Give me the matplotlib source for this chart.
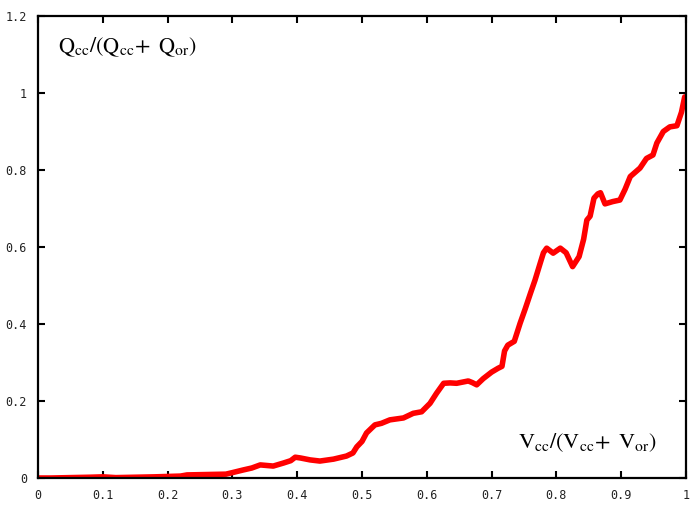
import matplotlib
matplotlib.use("Agg")
import matplotlib.pyplot as plt

# Volume fraction of the cc phase vs. its flow fraction
v_frac = [0.0, 0.02, 0.05, 0.08, 0.10, 0.12, 0.15, 0.18, 0.20, 0.22, 0.23,
          0.26, 0.29, 0.30, 0.317, 0.33, 0.343, 0.363, 0.379, 0.39, 0.397,
          0.405, 0.42, 0.435, 0.456, 0.476, 0.486, 0.492, 0.50, 0.507, 0.515,
          0.52, 0.53, 0.543, 0.564, 0.579, 0.592, 0.605, 0.615, 0.626, 0.636,
          0.646, 0.655, 0.664, 0.670, 0.677, 0.687, 0.70, 0.71, 0.716, 0.72,
          0.725, 0.735, 0.744, 0.752, 0.760, 0.767, 0.775, 0.78, 0.785, 0.795,
          0.806, 0.815, 0.825, 0.835, 0.842, 0.847, 0.852, 0.858, 0.864,
          0.868, 0.875, 0.887, 0.898, 0.906, 0.914, 0.929, 0.939, 0.949,
          0.955, 0.965, 0.975, 0.986, 0.993, 0.998, 1.0]
q_frac = [0.0, 0.0, 0.001, 0.002, 0.003, 0.001, 0.002, 0.003, 0.004, 0.005, 0.008,
          0.009, 0.010, 0.014, 0.021, 0.026, 0.034, 0.031, 0.039, 0.045, 0.054,
          0.052, 0.047, 0.044, 0.049, 0.057, 0.065, 0.081, 0.095, 0.117, 0.130,
          0.138, 0.142, 0.151, 0.156, 0.168, 0.172, 0.194, 0.220, 0.246, 0.247,
          0.246, 0.249, 0.252, 0.248, 0.242, 0.258, 0.275, 0.285, 0.290, 0.33,
          0.345, 0.355, 0.402, 0.440, 0.480, 0.514, 0.558, 0.585, 0.597, 0.584,
          0.597, 0.585, 0.549, 0.575, 0.62, 0.670, 0.680, 0.727, 0.738,
          0.741, 0.712, 0.718, 0.722, 0.750, 0.783, 0.805, 0.830, 0.839,
          0.870, 0.900, 0.912, 0.915, 0.950, 0.990, 0.975]

x_ticks = [0, 0.1, 0.2, 0.3, 0.4, 0.5, 0.6, 0.7, 0.8, 0.9, 1]
x_tick_labels = ["0", "0.1", "0.2", "0.3", "0.4", "0.5", "0.6", "0.7", "0.8", "0.9", "1"]
y_ticks = [0, 0.2, 0.4, 0.6, 0.8, 1.0, 1.2]
y_tick_labels = ["0", "0.2", "0.4", "0.6", "0.8", "1", "1.2"]

plt.rcParams["mathtext.fontset"] = "stix"

fig = plt.figure(figsize=(6.92, 5.07), dpi=100)
ax = fig.add_axes([38 / 692, 29 / 507, 648 / 692, 462 / 507])

ax.plot(v_frac, q_frac, color="#ff0000", linewidth=4.0,
        solid_capstyle="round", solid_joinstyle="round")

ax.set_xlim(0, 1)
ax.set_ylim(0, 1.2)
ax.set_xticks(x_ticks)
ax.set_xticklabels(x_tick_labels)
ax.set_yticks(y_ticks)
ax.set_yticklabels(y_tick_labels)

for sp in ax.spines.values():
    sp.set_linewidth(1.6)

ax.tick_params(direction="in", length=5, width=1.5, top=True, right=True,
               labelsize=8.5, pad=8)
for lab in ax.get_xticklabels() + ax.get_yticklabels():
    lab.set_family("DejaVu Sans Mono")
    lab.set_color("#222222")

ax.text(0.031, 0.933, r"$\mathrm{Q_{cc}/(Q_{cc}\!+\ Q_{or})}$",
        transform=ax.transAxes, fontsize=16, ha="left", va="center")
ax.text(0.955, 0.076, r"$\mathrm{V_{cc}/(V_{cc}\!+\ V_{or})}$",
        transform=ax.transAxes, fontsize=16, ha="right", va="center")

fig.savefig("out.png", dpi=100)
